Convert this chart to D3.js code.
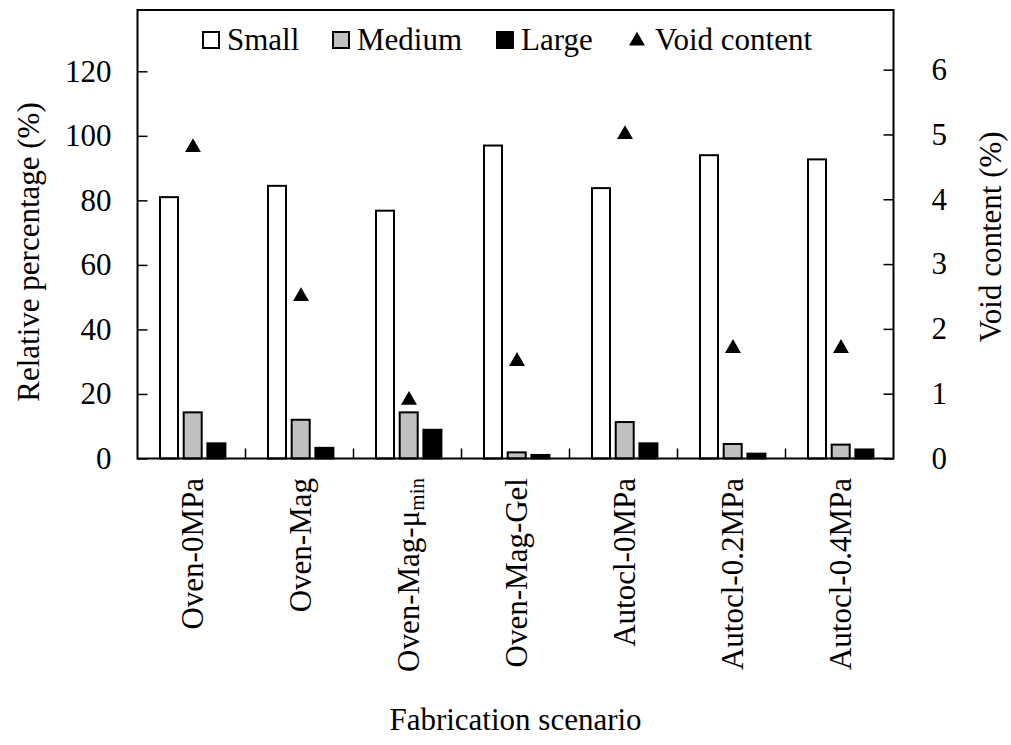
<!DOCTYPE html>
<html>
<head>
<meta charset="utf-8">
<script src="https://cdn.jsdelivr.net/npm/d3@7/dist/d3.min.js"></script>
<style>
  html, body { margin: 0; padding: 0; background: #fff; }
  svg { display: block; }
  text { font-family: "Liberation Serif", "Times New Roman", serif; fill: #000; }
</style>
</head>
<body>
<svg id="chart" width="1011" height="745"></svg>
<script>
const categories = ["Oven-0MPa", "Oven-Mag", "Oven-Mag-μmin", "Oven-Mag-Gel", "Autocl-0MPa", "Autocl-0.2MPa", "Autocl-0.4MPa"];
const seriesNames = ["Small", "Medium", "Large"];
const smallValues = [81, 84.5, 76.8, 97, 83.8, 94, 92.7];
const mediumValues = [14.3, 12, 14.3, 1.9, 11.3, 4.5, 4.3];
const largeValues = [4.7, 3.3, 8.9, 1.1, 4.7, 1.5, 2.8];
const voidValues = [4.8, 2.5, 0.9, 1.5, 5.0, 1.7, 1.7];
const leftTicks = [0, 20, 40, 60, 80, 100, 120];
const rightTicks = [0, 1, 2, 3, 4, 5, 6];
const seriesFills = ["#ffffff", "#c0c0c0", "#000000"];

const seriesValues = [smallValues, mediumValues, largeValues];

const svg = d3.select("#chart");
const L = 137.5, R = 893.5, T = 10, B = 458.5;
const FS = 31;
const FF = '"Liberation Serif", "Times New Roman", serif';

const x = d3.scaleBand().domain(categories).range([L, R]).paddingInner(0).paddingOuter(0);
const y = d3.scaleLinear().domain([0, 139]).range([B, T]);
const y2 = d3.scaleLinear().domain([0, 6.92]).range([B, T]);
const x1 = d3.scaleBand().domain(seriesNames).range([x.bandwidth()/2 - 31.5, x.bandwidth()/2 + 33.9]).paddingInner(0.24).paddingOuter(0);

// bars
const groups = svg.append("g").selectAll("g").data(categories).join("g")
  .attr("transform", d => `translate(${x(d)},0)`);
groups.each(function(cat, i) {
  const g = d3.select(this);
  seriesNames.forEach((s, j) => {
    const v = seriesValues[j][i];
    g.append("rect")
      .attr("x", x1(s))
      .attr("y", y(v))
      .attr("width", x1.bandwidth())
      .attr("height", B - y(v))
      .attr("fill", seriesFills[j])
      .attr("stroke", "#000")
      .attr("stroke-width", 2);
  });
});

// triangles
const tri = d3.symbol().type(d3.symbolTriangle).size(110);
svg.append("g").selectAll("path").data(voidValues).join("path")
  .attr("d", tri)
  .attr("transform", (d, i) => `translate(${x(categories[i]) + x.bandwidth()/2 + 1.5},${y2(d)})`)
  .attr("fill", "#000");

// left axis (inward ticks)
const leftAxis = d3.axisLeft(y).tickValues(leftTicks).tickFormat(d3.format("d")).tickSizeInner(-10).tickSizeOuter(0).tickPadding(26);
const gl = svg.append("g").attr("transform", `translate(${L},0)`).call(leftAxis);
gl.select(".domain").remove();
gl.selectAll(".tick line").attr("stroke", "#000").attr("stroke-width", 1.5);
gl.selectAll(".tick text").style("font-size", FS + "px").style("font-family", FF).attr("fill", "#000");

// right axis (inward ticks)
const rightAxis = d3.axisRight(y2).tickValues(rightTicks).tickFormat(d3.format("d")).tickSizeInner(-10).tickSizeOuter(0).tickPadding(38);
const gr = svg.append("g").attr("transform", `translate(${R},0)`).call(rightAxis);
gr.select(".domain").remove();
gr.selectAll(".tick line").attr("stroke", "#000").attr("stroke-width", 1.5);
gr.selectAll(".tick text").style("font-size", FS + "px").style("font-family", FF).attr("fill", "#000");

// bottom axis: category boundary ticks inward
const bottomTicks = categories.slice(1).map(c => x(c));
svg.append("g").selectAll("line").data(bottomTicks).join("line")
  .attr("x1", d => d).attr("x2", d => d)
  .attr("y1", B).attr("y2", B - 10)
  .attr("stroke", "#000").attr("stroke-width", 1.5);

// frame
svg.append("rect").attr("x", L).attr("y", T).attr("width", R - L).attr("height", B - T)
  .attr("fill", "none").attr("stroke", "#000").attr("stroke-width", 2);

// category labels rotated
const catLabels = svg.append("g").selectAll("text").data(categories).join("text")
  .attr("transform", d => `translate(${x(d) + x.bandwidth()/2 + 11},478) rotate(-90)`)
  .attr("text-anchor", "end")
  .style("font-size", FS + "px");
catLabels.each(function(d) {
  const t = d3.select(this);
  if (d.endsWith("μmin")) {
    t.append("tspan").text(d.replace("min", ""));
    t.append("tspan").text("min").attr("baseline-shift", "-25%").style("font-size", "21px");
  } else {
    t.text(d);
  }
});

// axis titles
svg.append("text").attr("x", (L + R) / 2).attr("y", 730).attr("text-anchor", "middle")
  .style("font-size", FS + "px").text("Fabrication scenario");
svg.append("text").attr("transform", "translate(39,252) rotate(-90)").attr("text-anchor", "middle")
  .style("font-size", FS + "px").text("Relative percentage (%)");
svg.append("text").attr("transform", "translate(1001,237) rotate(-90)").attr("text-anchor", "middle")
  .style("font-size", FS + "px").text("Void content (%)");

// legend
const legendItems = [
  { name: "Small", fill: seriesFills[0], sx: 203, tx: 227 },
  { name: "Medium", fill: seriesFills[1], sx: 333, tx: 357 },
  { name: "Large", fill: seriesFills[2], sx: 497, tx: 521 }
];
const lg = svg.append("g");
legendItems.forEach(it => {
  lg.append("rect").attr("x", it.sx).attr("y", 32).attr("width", 16).attr("height", 16)
    .attr("fill", it.fill).attr("stroke", "#000").attr("stroke-width", 2);
  lg.append("text").attr("x", it.tx).attr("y", 50).style("font-size", FS + "px").text(it.name);
});
lg.append("path").attr("d", tri).attr("transform", "translate(637,41)").attr("fill", "#000");
lg.append("text").attr("x", 655).attr("y", 50).style("font-size", FS + "px").text("Void content");
</script>
</body>
</html>
